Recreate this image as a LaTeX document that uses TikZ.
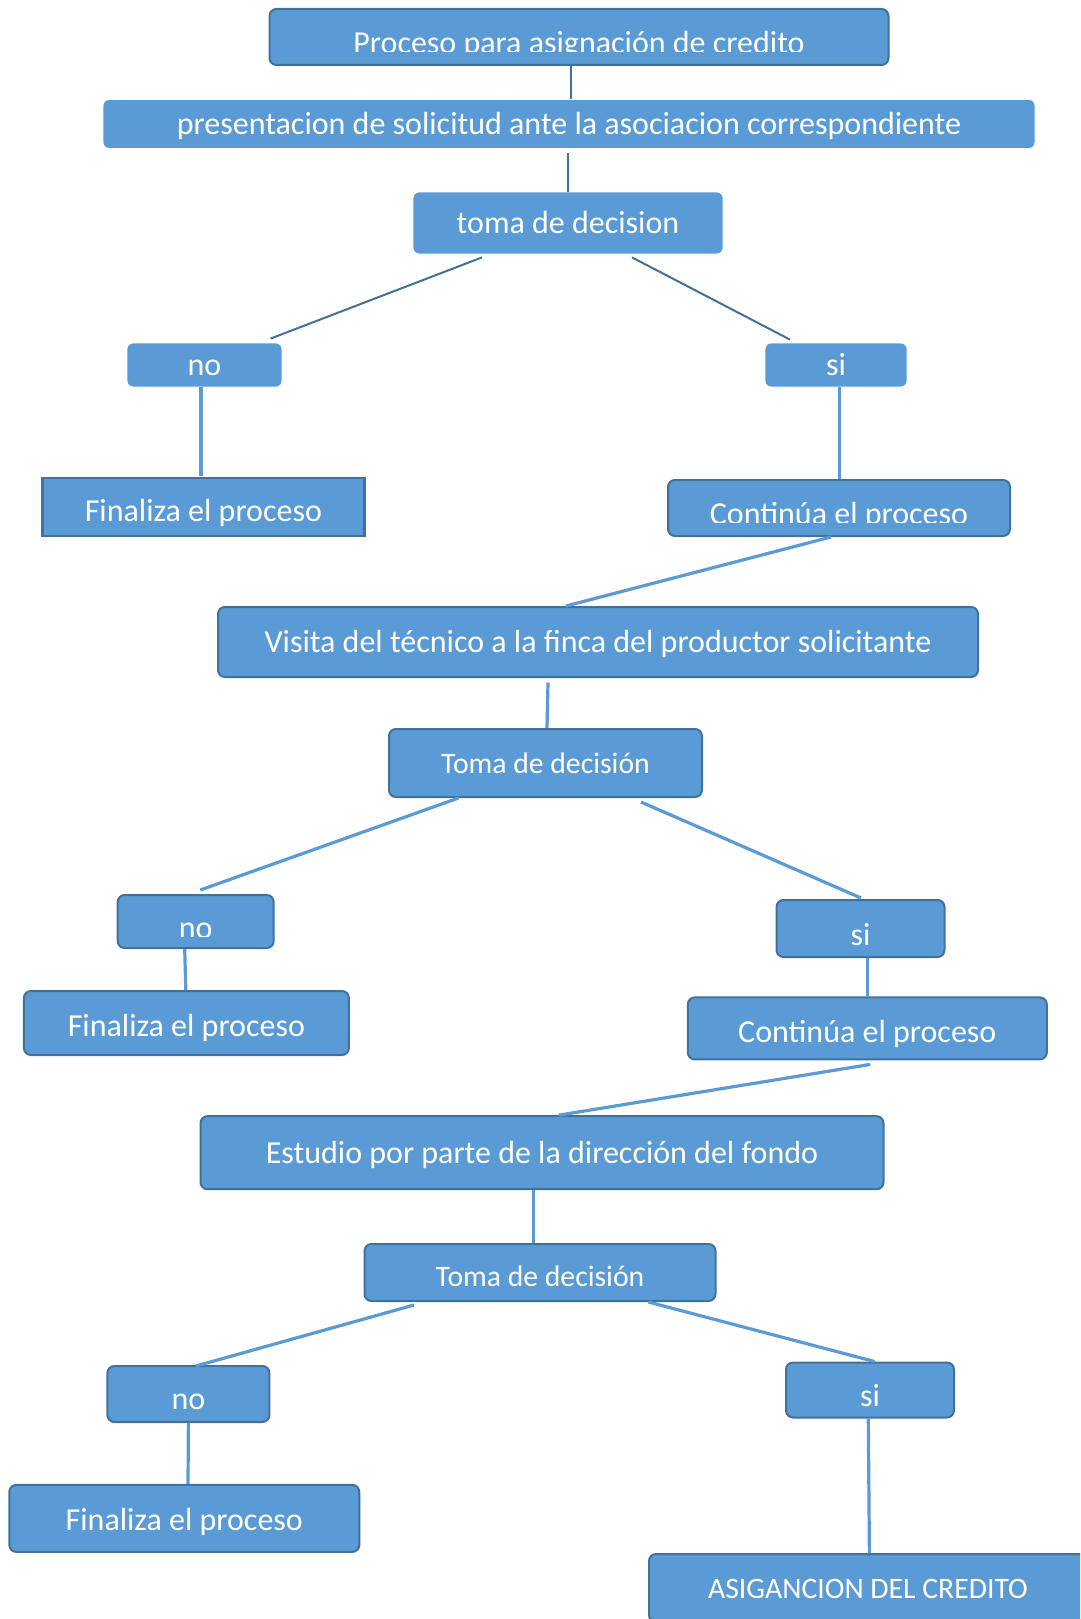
\documentclass[tikz,border=0pt]{standalone}
\usepackage{fontspec}
\setmainfont{Carlito}
\definecolor{fillb}{HTML}{5B9BD5}
\definecolor{edgeb}{HTML}{41719C}
\begin{document}
\begin{tikzpicture}[x=1pt,y=-1pt,
  base/.style={fill=fillb, text=white, inner sep=0pt, font=\fontsize{32}{32}\selectfont, text height=25pt, text depth=4pt},
  rbox/.style={base, rectangle, rounded corners=7pt, draw=edgeb, line width=2pt},
  pbox/.style={base, rectangle, rounded corners=6pt, draw=white, line width=0.8pt},
  sbox/.style={base, rectangle, draw=edgeb, line width=2.5pt},
  dlink/.style={draw=edgeb, line width=2pt},
  llink/.style={draw=fillb, line width=3.2pt},
  small/.style={font=\fontsize{29.7}{29.7}\selectfont},
  lower/.style={text height=#1},
  cliptext/.style={anchor=base, text=white, inner sep=0pt, font=\fontsize{32}{32}\selectfont}
]
\useasboundingbox (0,0) rectangle (1080,1619);
\clip (0,0) rectangle (1080,1619);
\fill[white] (0,0) rectangle (1080,1619);

% boxes
\node[rbox, minimum width=619pt, minimum height=56pt] (title) at (579,37) {};
\begin{scope}
  \clip (270,10) rectangle (888,52);
  \node[cliptext] (titletext) at (579,53) {Proceso para asignación de credito};
\end{scope}
\node[pbox, minimum width=932pt, minimum height=49pt] (pres) at (569,124) {presentacion de solicitud ante la asociacion correspondiente};
\node[pbox, minimum width=310pt, minimum height=62pt] (toma1) at (568,223) {toma de decision};
\node[pbox, minimum width=155pt, minimum height=44pt] (no1) at (204.5,365) {no};
\node[pbox, minimum width=142pt, minimum height=44pt] (si1) at (836,365) {si};
\node[sbox, lower=33pt, minimum width=322pt, minimum height=58pt] (fin1) at (203.4,507) {Finaliza el proceso};
\node[rbox, minimum width=342pt, minimum height=56pt] (con1) at (839,508) {};
\begin{scope}
  \clip (670,481) rectangle (1008,522);
  \node[cliptext] (con1text) at (839,524) {Continúa el proceso};
\end{scope}
\node[rbox, minimum width=760pt, minimum height=70pt] (visita) at (598,642) {Visita del técnico a la finca del productor solicitante};
\node[rbox, small, minimum width=313pt, minimum height=68pt] (toma2) at (545.5,763) {Toma de decisión};
\node[rbox, minimum width=156pt, minimum height=53pt] (no2) at (195.7,921.5) {};
\begin{scope}
  \clip (119,896) rectangle (272,936);
  \node[cliptext] (no2text) at (195.7,938) {no};
\end{scope}
\node[rbox, lower=37pt, minimum width=168pt, minimum height=57pt] (si2) at (860.5,928.5) {si};
\node[rbox, lower=31pt, minimum width=325pt, minimum height=64pt] (fin2) at (186.4,1023) {Finaliza el proceso};
\node[rbox, lower=33pt, minimum width=359pt, minimum height=62pt] (con2) at (867.3,1028.4) {Continúa el proceso};
\node[rbox, minimum width=683pt, minimum height=73pt] (estudio) at (542,1152.7) {Estudio por parte de la dirección del fondo};
\node[rbox, small, lower=31pt, minimum width=351pt, minimum height=57pt] (toma3) at (540,1272.5) {Toma de decisión};
\node[rbox, lower=35pt, minimum width=162pt, minimum height=56pt] (no3) at (188.4,1394) {no};
\node[rbox, lower=37pt, minimum width=168pt, minimum height=55pt] (si3) at (870,1390) {si};
\node[rbox, lower=29pt, minimum width=350pt, minimum height=67pt] (fin3) at (184.3,1518.4) {Finaliza el proceso};
\node[rbox, small, minimum width=438pt, minimum height=68pt] (asig) at (868,1588) {ASIGANCION DEL CREDITO};

% connectors
\draw[dlink] ([xshift=-8pt]title.south) -- ([xshift=2pt]pres.north);
\draw[dlink] ([shift={(-1,4)}]pres.south) -- (toma1.north);
\draw[dlink] ([shift={(-86,3)}]toma1.south) -- ([shift={(66,-4)}]no1.north);
\draw[dlink] ([shift={(64,3)}]toma1.south) -- ([shift={(-46,-3)}]si1.north);
\draw[llink] ([xshift=-3.5pt]no1.south) -- ([shift={(-2.4,-1)}]fin1.north);
\draw[llink] ([xshift=3.4pt]si1.south) -- ([xshift=0.4pt]con1.north);
\draw[llink] ([xshift=-8pt]con1.south) -- ([xshift=-32pt]visita.north);
\draw[llink] ([shift={(-50,4.5)}]visita.south) -- ([xshift=1.5pt]toma2.north);
\draw[llink] ([xshift=-87pt]toma2.south) -- ([shift={(4.6,-4)}]no2.north);
\draw[llink] ([shift={(95.5,4)}]toma2.south) -- ([shift={(0.5,-1)}]si2.north);
\draw[llink] ([xshift=-11pt]no2.south) -- ([xshift=-0.6pt]fin2.north);
\draw[llink] ([xshift=6.8pt]si2.south) -- (con2.north);
\draw[llink] ([shift={(3,4)}]con2.south) -- ([xshift=16.6pt]estudio.north);
\draw[llink] ([xshift=-8.2pt]estudio.south) -- ([xshift=-6.2pt]toma3.north);
\draw[llink] ([shift={(-126,3)}]toma3.south) -- ([shift={(7.6,1)}]no3.north);
\draw[llink] ([xshift=108.4pt]toma3.south) -- ([xshift=4.5pt]si3.north);
\draw[llink] (no3.south) -- ([xshift=3.7pt]fin3.north);
\draw[llink] ([xshift=-1.7pt]si3.south) -- ([xshift=1.4pt]asig.north);
\end{tikzpicture}
\end{document}
